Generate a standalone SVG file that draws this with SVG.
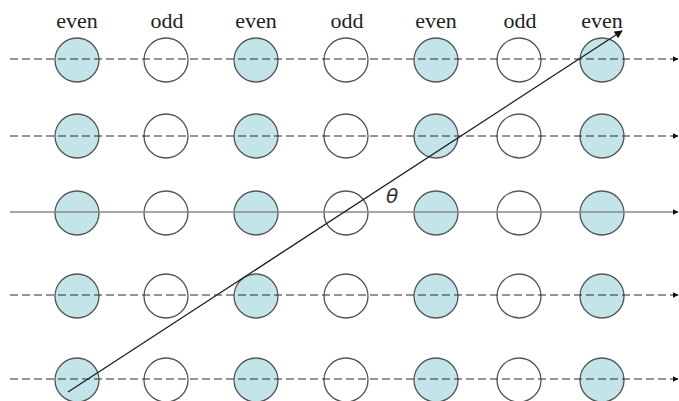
<svg xmlns="http://www.w3.org/2000/svg" width="679" height="401" viewBox="0 0 679 401">
<style>
.lbl{font-family:"Liberation Serif","Times New Roman",serif;font-size:22px;fill:#222;text-anchor:middle}
.ev{fill:#c3e4e9;stroke:#555;stroke-width:1.3}
.od{fill:#fff;stroke:#555;stroke-width:1.3}
.dl{stroke:#2a2a2a;stroke-width:1.2;stroke-dasharray:8 4;fill:none}
.sl{stroke:#888;stroke-width:1.5;fill:none}
</style>
<defs>
<marker id="ah" viewBox="0 0 10 10" refX="9" refY="5" markerWidth="6" markerHeight="6" markerUnits="userSpaceOnUse" orient="auto"><path d="M0,0 L10,5 L0,10 z" fill="#111"/></marker>
<marker id="ad" viewBox="0 0 10 10" refX="9" refY="5" markerWidth="9" markerHeight="8" markerUnits="userSpaceOnUse" orient="auto"><path d="M0,0 L10,5 L0,10 z" fill="#111"/></marker>
</defs>
<rect width="679" height="401" fill="#fff"/>
<g id="labels">
<text class="lbl" x="77" y="28">even</text>
<text class="lbl" x="167" y="28">odd</text>
<text class="lbl" x="256" y="28">even</text>
<text class="lbl" x="347" y="28">odd</text>
<text class="lbl" x="436" y="28">even</text>
<text class="lbl" x="520" y="28">odd</text>
<text class="lbl" x="602" y="28">even</text>
</g>
<g id="nodes">
<g id="r1"><circle class="ev" cx="77" cy="60" r="22"/><circle class="od" cx="166" cy="60" r="22"/><circle class="ev" cx="256" cy="60" r="22"/><circle class="od" cx="346" cy="60" r="22"/><circle class="ev" cx="436" cy="60" r="22"/><circle class="od" cx="519" cy="60" r="22"/><circle class="ev" cx="602" cy="60" r="22"/></g>
<g id="r2"><circle class="ev" cx="77" cy="136" r="22"/><circle class="od" cx="166" cy="136" r="22"/><circle class="ev" cx="256" cy="136" r="22"/><circle class="od" cx="346" cy="136" r="22"/><circle class="ev" cx="436" cy="136" r="22"/><circle class="od" cx="519" cy="136" r="22"/><circle class="ev" cx="602" cy="136" r="22"/></g>
<g id="r3"><circle class="ev" cx="77" cy="213" r="22"/><circle class="od" cx="166" cy="213" r="22"/><circle class="ev" cx="256" cy="213" r="22"/><circle class="od" cx="346" cy="213" r="22"/><circle class="ev" cx="436" cy="213" r="22"/><circle class="od" cx="519" cy="213" r="22"/><circle class="ev" cx="602" cy="213" r="22"/></g>
<g id="r4"><circle class="ev" cx="77" cy="296" r="22"/><circle class="od" cx="166" cy="296" r="22"/><circle class="ev" cx="256" cy="296" r="22"/><circle class="od" cx="346" cy="296" r="22"/><circle class="ev" cx="436" cy="296" r="22"/><circle class="od" cx="519" cy="296" r="22"/><circle class="ev" cx="602" cy="296" r="22"/></g>
<g id="r5"><circle class="ev" cx="77" cy="380" r="22"/><circle class="od" cx="166" cy="380" r="22"/><circle class="ev" cx="256" cy="380" r="22"/><circle class="od" cx="346" cy="380" r="22"/><circle class="ev" cx="436" cy="380" r="22"/><circle class="od" cx="519" cy="380" r="22"/><circle class="ev" cx="602" cy="380" r="22"/></g>
</g>
<g id="connectors">
<line class="dl" x1="10" y1="59" x2="678" y2="59" marker-end="url(#ah)"/>
<line class="dl" x1="10" y1="136" x2="678" y2="136" marker-end="url(#ah)"/>
<line class="sl" x1="10" y1="212" x2="678" y2="212" marker-end="url(#ah)"/>
<line class="dl" x1="10" y1="295" x2="678" y2="295" marker-end="url(#ah)"/>
<line class="dl" x1="10" y1="379" x2="678" y2="379" marker-end="url(#ah)"/>
<line x1="68" y1="392" x2="622" y2="31" stroke="#222" stroke-width="1.4" marker-end="url(#ad)"/>
</g>
<text x="392" y="203" font-family="DejaVu Sans, sans-serif" font-style="italic" font-size="20" fill="#333" text-anchor="middle">θ</text>
</svg>
